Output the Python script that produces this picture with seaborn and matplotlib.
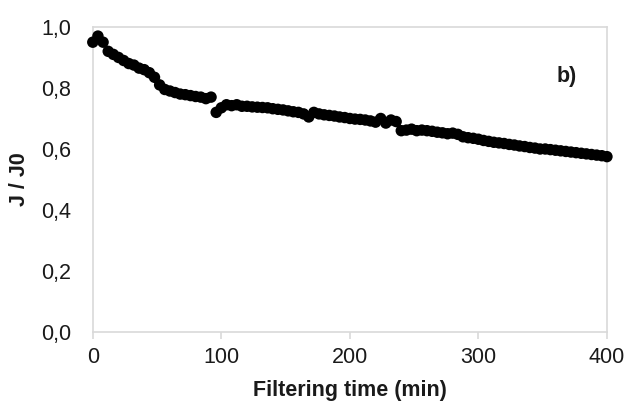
import matplotlib
matplotlib.use("Agg")
import matplotlib.pyplot as plt
import numpy as np
import pandas as pd
import seaborn as sns

# filtering time (min) and normalized flux J/J0
time_min = [0, 4, 8, 12, 16, 20, 24, 28, 32, 36, 40, 44, 48, 52, 56, 60, 64, 68, 72, 76,
            80, 84, 88, 92, 96, 100, 104, 108, 112, 116, 120, 124, 128, 132, 136, 140, 144, 148, 152, 156,
            160, 164, 168, 172, 176, 180, 184, 188, 192, 196, 200, 204, 208, 212, 216, 220, 224, 228, 232, 236,
            240, 244, 248, 252, 256, 260, 264, 268, 272, 276, 280, 284, 288, 292, 296, 300, 304, 308, 312, 316,
            320, 324, 328, 332, 336, 340, 344, 348, 352, 356, 360, 364, 368, 372, 376, 380, 384, 388, 392, 396, 400]
j_ratio = [0.95, 0.97, 0.95, 0.92, 0.91, 0.90, 0.89, 0.88, 0.875, 0.865, 0.86, 0.85, 0.835, 0.81, 0.795, 0.79, 0.785, 0.78, 0.778, 0.775,
           0.772, 0.77, 0.765, 0.77, 0.72, 0.735, 0.745, 0.742, 0.745, 0.74, 0.74, 0.738, 0.737, 0.736, 0.735, 0.732, 0.73, 0.728, 0.725, 0.722,
           0.72, 0.715, 0.705, 0.72, 0.715, 0.712, 0.71, 0.708, 0.705, 0.703, 0.70, 0.698, 0.697, 0.695, 0.692, 0.688, 0.70, 0.685, 0.695, 0.69,
           0.66, 0.662, 0.665, 0.66, 0.662, 0.66, 0.658, 0.655, 0.653, 0.65, 0.652, 0.648, 0.64, 0.637, 0.635, 0.632, 0.628, 0.625, 0.622, 0.62,
           0.618, 0.615, 0.613, 0.61, 0.608, 0.605, 0.603, 0.60, 0.60, 0.598, 0.596, 0.594, 0.592, 0.59, 0.588, 0.586, 0.584, 0.582, 0.58, 0.578, 0.575]
x_ticks = [0, 100, 200, 300, 400]
y_ticks = [0.0, 0.2, 0.4, 0.6, 0.8, 1.0]
y_tick_labels = ["0,0", "0,2", "0,4", "0,6", "0,8", "1,0"]

df = pd.DataFrame({"t": time_min, "j": j_ratio})

sns.set_style("white")
plt.rcParams["font.family"] = ["Liberation Sans", "DejaVu Sans"]

fig = plt.figure(figsize=(6.27, 4.08), dpi=100)
ax = fig.add_axes([0.148, 0.186, 0.82, 0.748])

sns.scatterplot(data=df, x="t", y="j", ax=ax, color="black", s=68,
                edgecolor="none", clip_on=False, zorder=3)

ax.set_xlim(0, 400)
ax.set_ylim(0, 1.0)
ax.set_xticks(x_ticks)
ax.set_yticks(y_ticks)
ax.set_yticklabels(y_tick_labels)

for s in ax.spines.values():
    s.set_color("#d9d9d9")
    s.set_linewidth(1.2)

ax.tick_params(axis="x", bottom=True, length=5, width=1.2,
               labelsize=15.5, colors="#1a1a1a", pad=6)
ax.tick_params(axis="x", color="#d9d9d9")
ax.tick_params(axis="y", left=False, labelsize=15.5, colors="#1a1a1a", pad=12)

ax.set_xlabel("Filtering time (min)", fontsize=15.5, fontweight="bold",
              color="#1a1a1a", labelpad=8)
ax.set_ylabel("J / J0", fontsize=15.5, fontweight="bold", color="#1a1a1a",
              labelpad=8)

ax.text(0.922, 0.836, "b)", transform=ax.transAxes, fontsize=15.5,
        fontweight="bold", ha="center", va="center", color="#1a1a1a")

fig.savefig("out.png", dpi=100)
